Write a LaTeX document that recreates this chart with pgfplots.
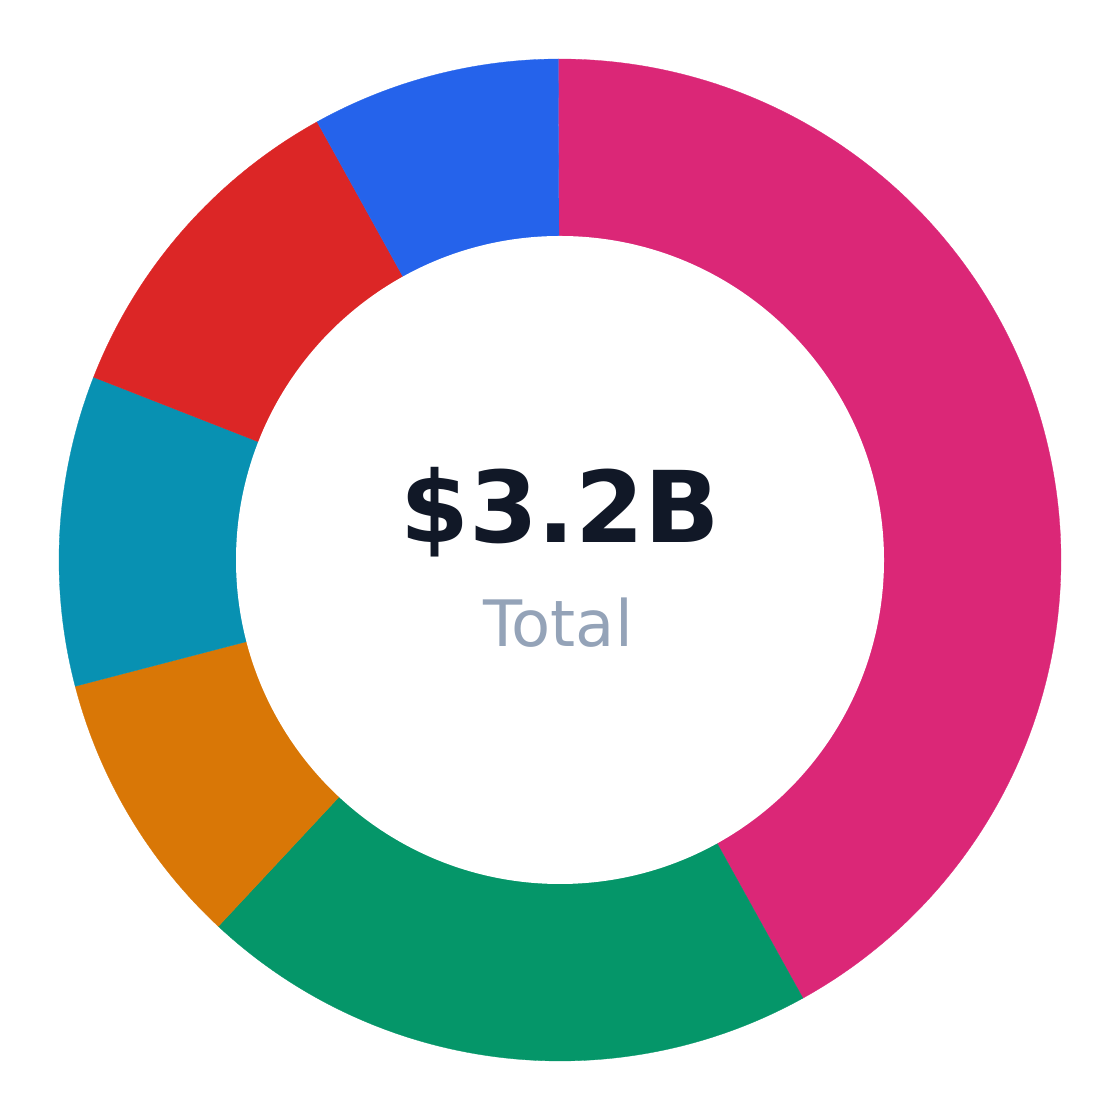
\documentclass[border=0pt]{standalone}
\usepackage{pgfplots}
\pgfplotsset{compat=1.18}
\usepackage{fontspec}
\setmainfont{DejaVu Sans}
\definecolor{cMag}{HTML}{DB2777}
\definecolor{cGreen}{HTML}{059669}
\definecolor{cOrange}{HTML}{D97706}
\definecolor{cTeal}{HTML}{0891B2}
\definecolor{cRed}{HTML}{DC2626}
\definecolor{cBlue}{HTML}{2563EB}
\definecolor{cDark}{HTML}{111827}
\definecolor{cGray}{HTML}{94A3B8}
\begin{document}
\begin{tikzpicture}
\begin{axis}[
  scale only axis, width=1120pt, height=1120pt,
  xmin=-560, xmax=560, ymin=-560, ymax=560,
  hide axis, clip=false,
]
\path (axis cs:-560,-560) rectangle (axis cs:560,560);
\xdef\cum{0}
\foreach \v/\c in {42/cMag, 20/cGreen, 9/cOrange, 10/cTeal, 11/cRed, 8/cBlue} {
  \pgfmathsetmacro\a{90.2-3.6*\cum}
  \pgfmathsetmacro\newcum{\cum+\v}
  \xdef\cum{\newcum}
  \pgfmathsetmacro\b{90.2-3.6*\cum}
  \edef\tmp{\noexpand\addplot[fill=\c, draw=\c, line width=0.3pt, domain=\b:\a, samples=150] ({501*cos(x)},{501*sin(x)}) -- (axis cs:0,0) -- cycle;}
  \tmp
}
\fill[white] (axis cs:0,0) circle[radius=324];
\node[anchor=base, text=cDark, inner sep=0pt] at (axis cs:0,17) {\fontsize{99}{102}\selectfont\bfseries \$3.2B};
\node[anchor=base, text=cGray, inner sep=0pt] at (axis cs:-2,-87) {\fontsize{64}{70}\selectfont Total};
\end{axis}
\end{tikzpicture}
\end{document}
